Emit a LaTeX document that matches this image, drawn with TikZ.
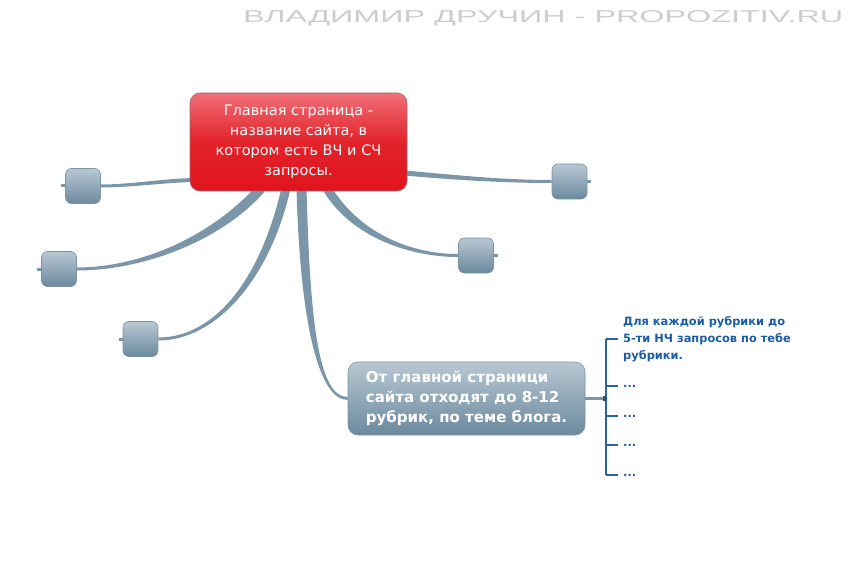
\documentclass[tikz,border=0pt]{standalone}
\usepackage{fontspec}
\setmainfont{DejaVu Sans}
\newfontfamily\titlefont{Liberation Sans}
\usetikzlibrary{calc,backgrounds}
\definecolor{conn}{HTML}{7A96A8}
\definecolor{redtop}{HTML}{F07078}
\definecolor{redmid}{HTML}{E2222A}
\definecolor{redbot}{HTML}{E0141C}
\definecolor{graytop}{HTML}{B8C8D3}
\definecolor{graybot}{HTML}{6B899E}
\definecolor{grayedge}{HTML}{7B93A4}
\definecolor{bluetxt}{HTML}{1B5CA6}
\definecolor{brkblue}{HTML}{2A64A0}
\definecolor{titlegray}{HTML}{CDCDCD}
\newcommand\taper[6]{%
  \path ($(#1)!#5!90:(#2)$) coordinate (tA1)
        ($(#1)!#5!-90:(#2)$) coordinate (tA2)
        ($(#4)!#6!-90:(#3)$) coordinate (tB1)
        ($(#4)!#6!90:(#3)$) coordinate (tB2);
  \fill[conn] (tA1) .. controls ($(#2)+(tA1)-(#1)$) and ($(#3)+(tB1)-(#4)$) .. (tB1)
     -- (tB2) .. controls ($(#3)+(tB2)-(#4)$) and ($(#2)+(tA2)-(#1)$) .. (tA2) -- cycle;
}
\tikzset{
  mainbox/.style={rounded corners=10pt, draw=grayedge!70!red, line width=0.6pt,
    top color=redtop, bottom color=redbot, middle color=redmid,
    minimum width=217pt, minimum height=98pt, inner sep=0pt, align=center,
    text=white, font=\fontsize{14.5}{20}\selectfont},
  topicbox/.style={rounded corners=10pt, draw=grayedge, line width=0.6pt,
    top color=graytop, bottom color=graybot,
    minimum width=237pt, minimum height=73pt, inner sep=0pt, align=left,
    text=white, font=\fontsize{15}{20}\selectfont\bfseries},
  smallbox/.style={rounded corners=6pt, draw=grayedge, line width=0.6pt,
    top color=graytop, bottom color=graybot,
    minimum width=35pt, minimum height=35pt, inner sep=0pt},
  stub/.style={draw=conn, line width=3pt},
  brk/.style={draw=brkblue, line width=2pt},
  subtxt/.style={anchor=west, inner sep=0pt, align=left, text=bluetxt,
    font=\fontsize{11.4}{17}\selectfont\bfseries},
}
\begin{document}
\begin{tikzpicture}[x=1pt,y=-1pt]
\useasboundingbox (0,0) rectangle (856,580);

% watermark title
\node[anchor=north west, inner sep=0pt, text=titlegray] (title) at (243,10)
  {\resizebox{600pt}{12pt}{\titlefont ВЛАДИМИР ДРУЧИН - PROPOZITIV.RU}};

% nodes
\node[mainbox] (main) at (298.5,142)
  {Главная страница -\\название сайта, в\\котором есть ВЧ и СЧ\\запросы.};
\node[topicbox] (topic) at (466.5,398.5)
  {От главной страници\\сайта отходят до 8-12\\рубрик, по теме блога.};
\node[smallbox] (l1) at (83,186) {};
\node[smallbox] (l2) at (59,269) {};
\node[smallbox] (l3) at (140.5,339) {};
\node[smallbox] (r1) at (569.5,181.5) {};
\node[smallbox] (r2) at (476,255.5) {};

% sub items
\node[subtxt] (t1) at (623,339) {Для каждой рубрики до\\5-ти НЧ запросов по тебе\\рубрики.};
\node[subtxt] (t2) at (623,386) {...};
\node[subtxt] (t3) at (623,416) {...};
\node[subtxt] (t4) at (623,445) {...};
\node[subtxt] (t5) at (623,475) {...};

\begin{scope}[on background layer]
  \coordinate (s1) at ([xshift=-37.5pt,yshift=3pt]main.south);
  \coordinate (s2) at ([xshift=-12.5pt,yshift=3pt]main.south);
  \coordinate (s3) at ([xshift=3pt,yshift=3pt]main.south);
  \coordinate (s4) at ([xshift=28.5pt,yshift=3pt]main.south);
  \coordinate (s5) at ([xshift=3pt,yshift=-38pt]main.west);
  \coordinate (s6) at ([xshift=-3pt,yshift=-31pt]main.east);
  \taper{s1}{215,240}{140,269}{l2.east}{5pt}{1.5pt}
  \taper{s2}{265,280}{215,339}{l3.east}{4.5pt}{1.5pt}
  \taper{s3}{305,320}{318,398.5}{topic.west}{5pt}{1.5pt}
  \taper{s4}{355,235}{410,255.5}{r2.west}{4.5pt}{1.5pt}
  \taper{s5}{160,181}{130,186}{l1.east}{2pt}{1.5pt}
  \taper{s6}{450,177}{500,181.5}{r1.west}{2.5pt}{1.5pt}
  % stubs
  \draw[stub] (l1.west) -- ++(-4,0);
  \draw[stub] (l2.west) -- ++(-4,0);
  \draw[stub] (l3.west) -- ++(-4,0);
  \draw[stub] (r1.east) -- ++(4,0);
  \draw[stub] (r2.east) -- ++(4,0);
\end{scope}

% bracket
\coordinate (bj) at ([xshift=21pt]topic.east);
\draw[draw=conn, line width=2.5pt] (topic.east) -- (bj);
\draw[brk] ($(t1.west)+(-17,0)$) -- ($(t5.west)+(-17,0)$);
\foreach \t in {t1,t2,t3,t4,t5}
  \draw[brk] ($(\t.west)+(-5,0)$) -- ($(\t.west)+(-17,0)$);
\fill[brkblue!80!black] ($(bj)+(-3,-2.5)$) rectangle ($(bj)+(1,2.5)$);
\end{tikzpicture}
\end{document}
